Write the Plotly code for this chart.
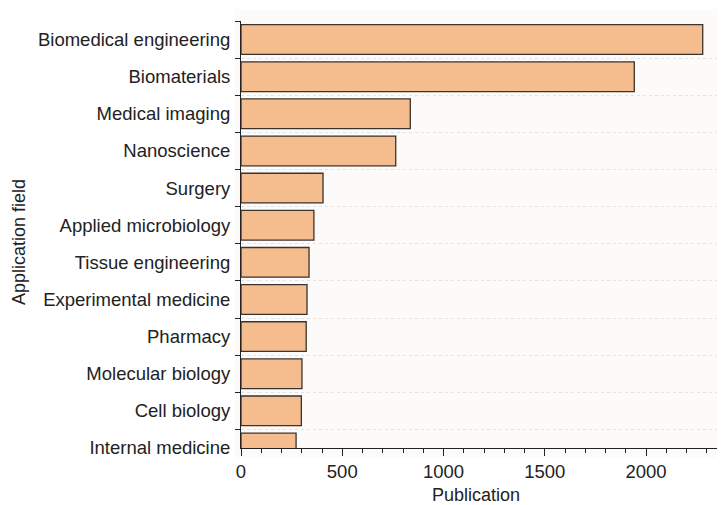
import plotly.graph_objects as go

categories = ["Biomedical engineering", "Biomaterials", "Medical imaging", "Nanoscience",
              "Surgery", "Applied microbiology", "Tissue engineering", "Experimental medicine",
              "Pharmacy", "Molecular biology", "Cell biology", "Internal medicine"]
publications = [2280, 1942, 836, 764, 405, 360, 336, 326, 322, 301, 298, 272]

x_title = "Publication"
y_title = "Application field"

FONT = "Arial, Liberation Sans, sans-serif"

fig = go.Figure()
fig.add_trace(go.Bar(
    x=publications, y=categories, orientation="h", width=0.8,
    marker=dict(color="#F5BC8E", line=dict(color="#3a3330", width=1.3)),
    showlegend=False,
))

# the page body adds an 8px offset; compensate
OFF = 8
W, H = 725 - OFF, 505 - OFF
L, R, T, B = 241 - OFF, 0, 21 - OFF, 505 - 448
pw, ph = W - L - R, H - T - B

fig.add_shape(type="rect", xref="paper", yref="paper",
              x0=(235 - 241) / pw, x1=1.0,
              y0=-(458 - 448) / ph, y1=1 + (21 - 9) / ph,
              fillcolor="#FCFBF9", line=dict(width=0), layer="below")

fig.update_layout(
    width=W, height=H,
    margin=dict(l=L, r=R, t=T, b=B, pad=0, autoexpand=False),
    paper_bgcolor="white", plot_bgcolor="rgba(0,0,0,0)",
    font=dict(family=FONT, size=18, color="#222"),
    bargap=0.2,
)
fig.update_xaxes(
    range=[0, 2390], tickvals=[0, 500, 1000, 1500, 2000],
    ticks="outside", ticklen=7, tickcolor="#222", tickwidth=1,
    showline=True, linecolor="#222", linewidth=1,
    showgrid=False, zeroline=False, automargin=False,
    minor=dict(dtick=100, ticks="outside", ticklen=4, tickcolor="#222", showgrid=False),
    tickfont=dict(size=18.5),
)
fig.update_yaxes(
    categoryorder="array", categoryarray=categories,
    range=[11.0, -0.5], automargin=False,
    tickson="boundaries", ticks="outside", ticklen=5, tickcolor="#222",
    ticklabelstandoff=6,
    showline=True, linecolor="#222", linewidth=1,
    showgrid=True, gridcolor="#e2e2e2", griddash="dot", gridwidth=1,
    tickfont=dict(size=18.5),
)
fig.add_annotation(text=x_title, xref="paper", yref="paper",
                   x=(476 - 241) / pw, y=-(495 - 448) / ph,
                   showarrow=False, font=dict(size=18), xanchor="center", yanchor="middle")
fig.add_annotation(text=y_title, xref="paper", yref="paper",
                   x=-(241 - 19) / pw, y=1 - (242 - 21) / ph, textangle=-90,
                   showarrow=False, font=dict(size=18), xanchor="center", yanchor="middle")

fig.write_html("out.html")
